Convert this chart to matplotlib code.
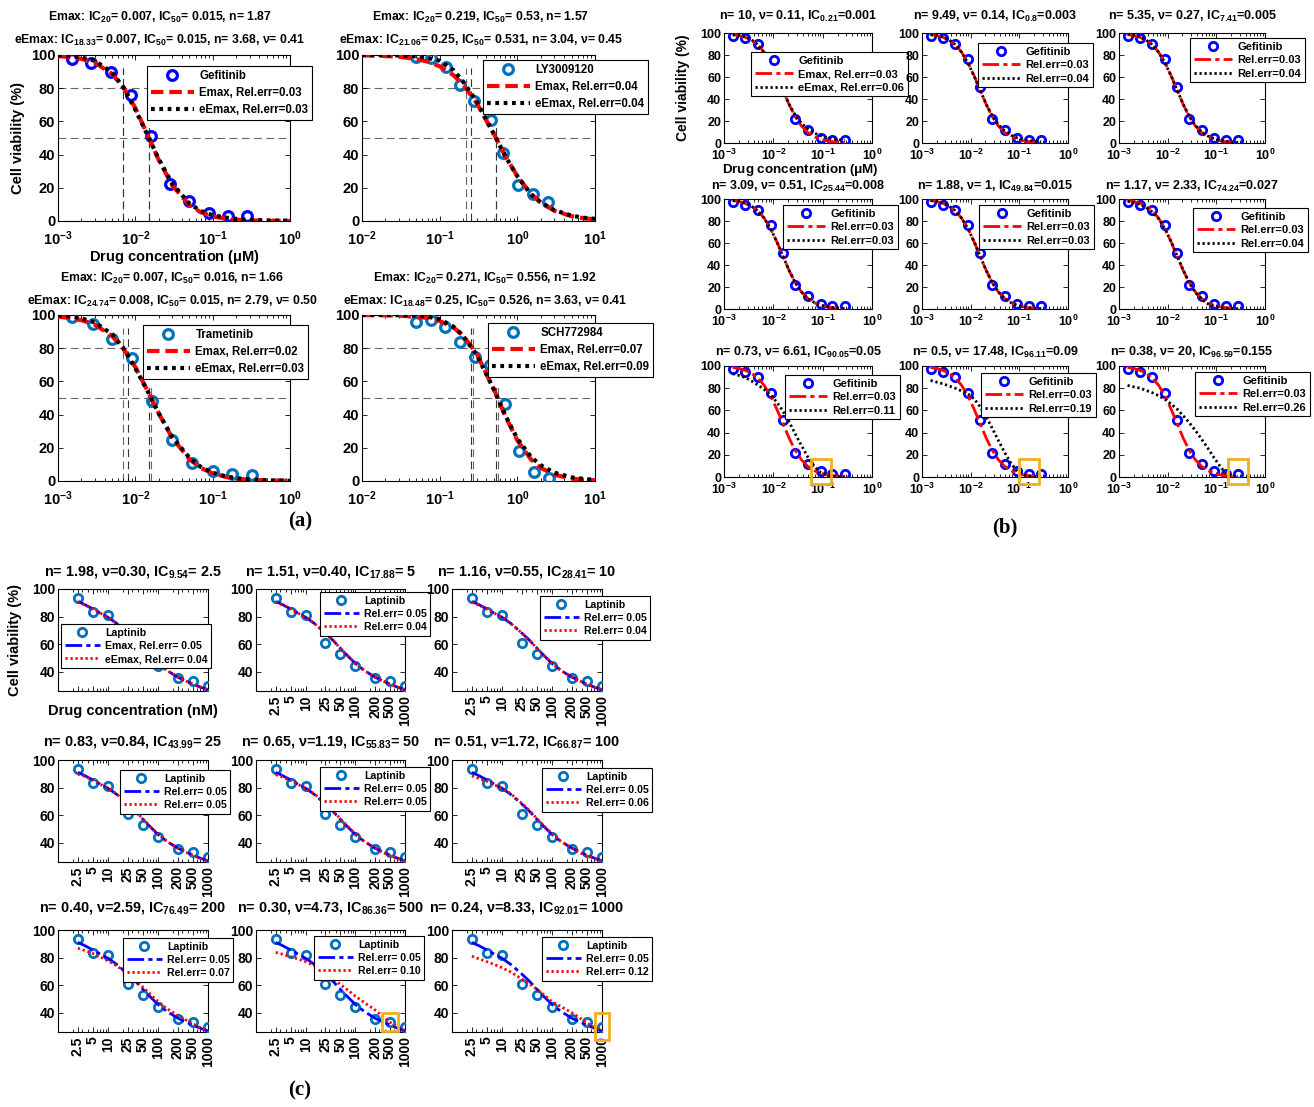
import matplotlib
matplotlib.use('Agg')
import matplotlib.pyplot as plt
from matplotlib.patches import Rectangle
from matplotlib.ticker import NullFormatter, LogLocator

plt.rcParams['font.family'] = ['Liberation Sans', 'DejaVu Sans']
plt.rcParams['font.weight'] = 'bold'
plt.rcParams['mathtext.fontset'] = 'custom'
plt.rcParams['mathtext.rm'] = 'Liberation Sans:bold'
plt.rcParams['mathtext.bf'] = 'Liberation Sans:bold'
plt.rcParams['mathtext.it'] = 'Liberation Sans:bold:italic'
plt.rcParams['mathtext.default'] = 'bf'
plt.rcParams['axes.linewidth'] = 0.8

W, H = 1314, 1107

# ---------------- data: panel (a) ----------------
gef_conc = [0.0015, 0.0027, 0.0048, 0.0088, 0.0158, 0.0277, 0.05, 0.091, 0.158, 0.28]
gef_via = [97.5, 95, 90, 76, 51, 22, 12, 5, 3, 3]
ly_conc = [0.05, 0.078, 0.12, 0.183, 0.275, 0.452, 0.658, 1.03, 1.6, 2.5]
ly_via = [99, 98, 92.5, 82, 72, 61, 41, 21.5, 16, 11.5]
tram_conc = [0.0015, 0.0028, 0.005, 0.0091, 0.0164, 0.03, 0.054, 0.1, 0.18, 0.325]
tram_via = [99, 94.5, 85.5, 74, 48, 25, 11, 6, 4, 3.5]
sch_conc = [0.05, 0.078, 0.118, 0.184, 0.282, 0.44, 0.69, 1.06, 1.65, 2.56]
sch_via = [95.5, 97, 93, 83.5, 75, 70, 46.5, 18, 5.5, 2]

grid_lo = [0.001, 0.0015, 0.002, 0.003, 0.005, 0.007, 0.01, 0.015, 0.02, 0.03,
           0.05, 0.07, 0.1, 0.15, 0.2, 0.3, 0.5, 1.0]
grid_hi = [0.01, 0.02, 0.03, 0.05, 0.07, 0.1, 0.15, 0.2, 0.3, 0.5,
           0.7, 1, 1.5, 2, 3, 5, 7, 10]
gef_emax = [99.4, 98.6, 97.7, 95.3, 88.6, 80.6, 68.1, 50, 36.9, 21.5, 9.5, 5.3, 2.8, 1.3, 0.8, 0.4, 0.14, 0.04]
gef_eemax = [99.8, 99.2, 98.5, 96.5, 89.5, 80.5, 67, 50, 37.5, 22.5, 10.5, 6, 3.5, 2, 1.3, 0.7, 0.3, 0.1]
ly_emax = [99.8, 99.4, 98.9, 97.6, 96.0, 93.2, 87.9, 82.2, 71.0, 52.3, 39.2, 27.0, 16.3, 11.1, 6.2, 2.9, 1.7, 1.0]
ly_eemax = [100, 99.9, 99.7, 99.2, 98.3, 96.5, 91, 84, 72, 52.3, 39, 27, 16, 11.3, 6.5, 3.2, 2.0, 1.3]
tram_emax = [99.0, 98.1, 96.9, 94.2, 87.3, 79.8, 68.6, 52.7, 40.8, 26.0, 13.1, 7.9, 4.6, 2.4, 1.5, 0.76, 0.33, 0.1]
tram_eemax = [99.8, 99, 98, 95.5, 88.5, 80, 68, 52.5, 41, 26.5, 14, 8.5, 5, 2.7, 1.7, 0.9, 0.4, 0.1]
sch_emax = [99.96, 99.8, 99.6, 99.0, 98.2, 96.4, 92.5, 87.7, 76.6, 55.1, 39.1, 24.5, 13.0, 7.9, 3.8, 1.45, 0.77, 0.39]
sch_eemax = [100, 100, 99.9, 99.6, 99, 97.5, 93, 87.5, 76, 55, 39.5, 25.5, 14.5, 9.5, 5, 2.2, 1.3, 0.7]

# IC lines (Emax IC20, Emax IC50, eEmax ICx, eEmax IC50)
gef_ic = [0.007, 0.015, 0.007, 0.015]
ly_ic = [0.219, 0.53, 0.25, 0.531]
tram_ic = [0.007, 0.016, 0.008, 0.015]
sch_ic = [0.271, 0.556, 0.25, 0.526]

a_titles = [
    ['Emax: IC$_{20}$= 0.007, IC$_{50}$= 0.015, n= 1.87',
     'eEmax: IC$_{18.33}$= 0.007, IC$_{50}$= 0.015, n= 3.68, ν= 0.41'],
    ['Emax: IC$_{20}$= 0.219, IC$_{50}$= 0.53, n= 1.57',
     'eEmax: IC$_{21.06}$= 0.25, IC$_{50}$= 0.531, n= 3.04, ν= 0.45'],
    ['Emax: IC$_{20}$= 0.007, IC$_{50}$= 0.016, n= 1.66',
     'eEmax: IC$_{24.74}$= 0.008, IC$_{50}$= 0.015, n= 2.79, ν= 0.50'],
    ['Emax: IC$_{20}$= 0.271, IC$_{50}$= 0.556, n= 1.92',
     'eEmax: IC$_{18.48}$= 0.25, IC$_{50}$= 0.526, n= 3.63, ν= 0.41'],
]
a_names = ['Gefitinib', 'LY3009120', 'Trametinib', 'SCH772984']
a_errs = [('0.03', '0.03'), ('0.04', '0.04'), ('0.02', '0.03'), ('0.07', '0.09')]

# ---------------- data: panel (b) ----------------
b_grid = [0.0015, 0.002, 0.0027, 0.0036, 0.0048, 0.0065, 0.0088, 0.012, 0.0158, 0.021,
          0.0277, 0.037, 0.05, 0.068, 0.091, 0.12, 0.158, 0.21, 0.28]
b_emax = [98.6, 97.7, 96.1, 93.5, 89.4, 82.7, 73.0, 60.3, 47.6, 34.8, 24.1, 15.6, 9.5, 5.6, 3.3, 2.0, 1.2, 0.7, 0.4]
b_eemax = [
    [98.3, 97.8, 96.6, 94, 89.5, 82, 72, 59.5, 47, 35, 25.5, 18, 13, 9, 6.5, 5, 3.8, 3, 2.4],
    [98.4, 97.8, 96.4, 93.8, 89.5, 82.5, 72.5, 60, 47.5, 35, 24.8, 16.8, 11, 7, 4.6, 3.2, 2.3, 1.6, 1.1],
    [98.8, 98, 96.5, 93.7, 89.4, 82.5, 72.8, 60.2, 47.6, 35, 24.5, 16, 10, 6.2, 3.8, 2.4, 1.5, 0.9, 0.6],
    [98.7, 97.8, 96.2, 93.5, 89.4, 82.7, 73.0, 60.3, 47.6, 34.8, 24.1, 15.6, 9.6, 5.8, 3.5, 2.2, 1.4, 0.9, 0.5],
    [98.6, 97.7, 96.1, 93.5, 89.4, 82.7, 73.0, 60.3, 47.6, 34.8, 24.1, 15.6, 9.5, 5.6, 3.3, 2.0, 1.2, 0.7, 0.4],
    [97.8, 96.8, 95, 92.3, 88.3, 82, 73, 60.5, 48, 35, 24, 15, 8.6, 4.6, 2.5, 1.3, 0.7, 0.4, 0.2],
    [93, 91.5, 89.5, 86.5, 83, 79, 74, 67, 59, 49.5, 39, 28.5, 18, 9.5, 4, 1.8, 0.8, 0.4, 0.2],
    [87, 85.5, 84, 82, 80, 77.5, 75, 70, 63, 54, 44, 33, 22, 12, 5, 2, 0.8, 0.3, 0.1],
    [82.5, 81.3, 80, 78, 76, 73.3, 70, 65.5, 61, 55, 49, 42, 34, 25.5, 17, 9.5, 3, 1, 0.3],
]
b_titles = [
    'n= 10, ν= 0.11, IC$_{0.21}$=0.001',
    'n= 9.49, ν= 0.14, IC$_{0.8}$=0.003',
    'n= 5.35, ν= 0.27, IC$_{7.41}$=0.005',
    'n= 3.09, ν= 0.51, IC$_{25.44}$=0.008',
    'n= 1.88, ν= 1, IC$_{49.84}$=0.015',
    'n= 1.17, ν= 2.33, IC$_{74.24}$=0.027',
    'n= 0.73, ν= 6.61, IC$_{90.05}$=0.05',
    'n= 0.5, ν= 17.48, IC$_{96.11}$=0.09',
    'n= 0.38, ν= 20, IC$_{96.59}$=0.155',
]
b_errs = ['0.06', '0.04', '0.04', '0.03', '0.03', '0.04', '0.11', '0.19', '0.26']
b_boxed = [None, None, None, None, None, None, 7, 8, 9]

# ---------------- data: panel (c) ----------------
lap_conc = [2.5, 5, 10, 25, 50, 100, 250, 500, 1000]
lap_ticks = ['2.5', '5', '10', '25', '50', '100', '200', '500', '1000']
lap_via = [93.5, 83, 81.5, 60.5, 52.5, 44, 35.5, 33, 29.5]
c_grid = [2.5, 3.5, 5, 7, 10, 15, 25, 35, 50, 70, 100, 150, 250, 350, 500, 700, 1000]
c_emax = [91, 88.5, 85.5, 82.5, 79.5, 75, 68, 63, 57, 51.5, 46, 41, 36, 33.5, 31, 28.8, 26.8]
c_eemax = [
    [90.5, 88.3, 85.5, 82.5, 79.5, 75, 68, 63, 57, 51.5, 46, 41, 36, 33.5, 31, 29, 27],
    [90.5, 88.3, 85.5, 82.5, 79.5, 75, 68, 63, 57, 51.5, 46, 41, 36, 33.5, 31, 29, 27],
    [90.3, 88.2, 85.5, 82.5, 79.5, 75, 68, 63, 57, 51.5, 46, 41, 36, 33.5, 31, 29, 27],
    [89.8, 88, 85.3, 82.5, 79.5, 75.2, 68.2, 63.2, 57.2, 51.7, 46.2, 41, 36, 33.3, 30.8, 28.8, 26.8],
    [89.3, 87.5, 85, 82.3, 79.5, 75.3, 68.3, 63.3, 57.3, 51.8, 46.3, 41, 36, 33.2, 30.7, 28.6, 26.6],
    [88.5, 86.5, 84.5, 82, 79.5, 75.5, 68.5, 63.5, 57.5, 52, 46.5, 41, 36, 33, 30.5, 28.5, 26.5],
    [86.8, 85, 83, 80.5, 77.6, 74, 68, 63.5, 58.5, 53.5, 48, 43, 38, 35, 32, 29, 26.3],
    [83.8, 82.3, 80.6, 79, 77, 74, 69, 65, 60.5, 56.5, 52, 47.5, 42, 37.5, 33, 30, 27],
    [81, 79, 77, 75, 72.6, 69.5, 64.4, 61, 57, 52.8, 48, 44.5, 40, 36.5, 32.5, 29.5, 27],
]
c_titles = [
    'n= 1.98, ν=0.30, IC$_{9.54}$= 2.5',
    'n= 1.51, ν=0.40, IC$_{17.88}$= 5',
    'n= 1.16, ν=0.55, IC$_{28.41}$= 10',
    'n= 0.83, ν=0.84, IC$_{43.99}$= 25',
    'n= 0.65, ν=1.19, IC$_{55.83}$= 50',
    'n= 0.51, ν=1.72, IC$_{66.87}$= 100',
    'n= 0.40, ν=2.59, IC$_{76.49}$= 200',
    'n= 0.30, ν=4.73, IC$_{86.36}$= 500',
    'n= 0.24, ν=8.33, IC$_{92.01}$= 1000',
]
c_errs = [('0.05', '0.04'), ('0.05', '0.04'), ('0.05', '0.04'),
          ('0.05', '0.05'), ('0.05', '0.05'), ('0.05', '0.06'),
          ('0.05', '0.07'), ('0.05', '0.10'), ('0.05', '0.12')]
c_boxed = [None, None, None, None, None, None, None, 7, 8]

MBLUE = '#0072BD'
BOXC = '#EDB120'

fig = plt.figure(figsize=(W / 100, H / 100), dpi=100)


def px_axes(l, t, r, b):
    return fig.add_axes([l / W, 1 - b / H, (r - l) / W, (b - t) / H])


def ptext(x, y, s, **kw):
    fig.text(x / W, 1 - y / H, s, **kw)


def style(ax, fs, xpad=4):
    ax.tick_params(which='both', direction='in', top=True, right=True, labelsize=fs, width=0.6)
    ax.tick_params(axis='x', pad=xpad)
    ax.tick_params(axis='y', pad=2)
    ax.tick_params(which='major', length=3.5)
    ax.tick_params(which='minor', length=2)
    ax.xaxis.set_minor_locator(LogLocator(subs=range(2, 10)))
    ax.xaxis.set_minor_formatter(NullFormatter())


def px_legend(ax, x, y, fs, hl, ls=0.3):
    leg = ax.legend(loc='upper left', bbox_to_anchor=(x / W, 1 - y / H), bbox_transform=fig.transFigure,
                    fontsize=fs, handlelength=hl, frameon=True, fancybox=False, framealpha=1,
                    edgecolor='black', borderaxespad=0, borderpad=0.35, labelspacing=ls,
                    handletextpad=0.5, numpoints=1)
    leg.get_frame().set_linewidth(0.8)
    leg.set_zorder(10)


def box(ax, xc, y0, y1, half_dec):
    x0 = xc / 10 ** half_dec
    x1 = xc * 10 ** half_dec
    ax.add_patch(Rectangle((x0, y0), x1 - x0, y1 - y0, fill=False, ec=BOXC, lw=2,
                           clip_on=False, zorder=6))


def dec_labels(lo, hi):
    return [10.0 ** k for k in range(lo, hi + 1)], ['$10^{%d}$' % k for k in range(lo, hi + 1)]


# ---------------- panel (a) ----------------
a_pos = [(58, 55, 290, 221), (362, 55, 595, 221), (58, 315, 290, 481), (362, 315, 595, 481)]
a_conc = [gef_conc, ly_conc, tram_conc, sch_conc]
a_via = [gef_via, ly_via, tram_via, sch_via]
a_grid = [grid_lo, grid_hi, grid_lo, grid_hi]
a_emax = [gef_emax, ly_emax, tram_emax, sch_emax]
a_eemax = [gef_eemax, ly_eemax, tram_eemax, sch_eemax]
a_ic = [gef_ic, ly_ic, tram_ic, sch_ic]
a_dec = [(-3, 0), (-2, 1), (-3, 0), (-2, 1)]
a_mcol = ['blue', MBLUE, MBLUE, MBLUE]
a_tx = [160, 481, 172, 485]
a_ty = [21, 21, 282, 282]
a_leg = [(147, 66), (483, 60), (143, 325), (488, 323)]

for i in range(4):
    ax = px_axes(*a_pos[i])
    ax.set_xscale('log')
    lo, hi = a_dec[i]
    ax.set_xlim(10.0 ** lo, 10.0 ** hi)
    ax.set_ylim(0, 100)
    for yv in (80, 50):
        ax.axhline(yv, color='0.4', lw=0.8, dashes=(7, 4), zorder=1)
    tops = [92, 58, 92, 58]
    for j, icv in enumerate(a_ic[i]):
        ax.plot([icv, icv], [0, tops[j]], color='0.4' if j < 2 else '0.2', lw=0.8, dashes=(7, 4), zorder=1)
    ax.plot(a_conc[i], a_via[i], 'o', mfc='none', mec=a_mcol[i], ms=7, mew=2.3, label=a_names[i], zorder=3)
    ax.plot(a_grid[i], a_emax[i], color='red', lw=3, dashes=(3, 1.4),
            label='Emax, Rel.err=' + a_errs[i][0], zorder=4)
    ax.plot(a_grid[i], a_eemax[i], color='black', lw=3, dashes=(0.9, 1.1),
            label='eEmax, Rel.err=' + a_errs[i][1], zorder=5)
    ticks, labs = dec_labels(lo, hi)
    ax.set_xticks(ticks)
    ax.set_xticklabels(labs)
    ax.set_yticks([0, 20, 40, 60, 80, 100])
    style(ax, 10.5, xpad=6)
    px_legend(ax, a_leg[i][0], a_leg[i][1], 8.3, 3.7, ls=0.45)
    ptext(a_tx[i], a_ty[i], a_titles[i][0], ha='center', va='baseline', fontsize=8.8)
    ptext(a_tx[i], a_ty[i] + 23, a_titles[i][1], ha='center', va='baseline', fontsize=8.8)

ptext(18, 138, 'Cell viability (%)', rotation=90, ha='center', va='center', fontsize=10.5)
ptext(175, 257, 'Drug concentration ($\\mu$M)', ha='center', va='center', fontsize=10.5)
ptext(300, 521, '(a)', ha='center', va='center', fontsize=15, family='Liberation Serif')

# ---------------- panel (b) ----------------
b_cols = [(724, 872), (922, 1068), (1119, 1265)]
b_rows = [(33, 143), (199, 309), (366, 477)]
b_leg = [(751, 52), (978, 43), (1190, 38), (783, 205), (979, 205), (1193, 208),
         (785, 375), (981, 373), (1195, 372)]
b_ty = [20, 190, 356]

for k in range(9):
    r, c = divmod(k, 3)
    ax = px_axes(b_cols[c][0], b_rows[r][0], b_cols[c][1], b_rows[r][1])
    ax.set_xscale('log')
    ax.set_xlim(1e-3, 1)
    ax.set_ylim(0, 100)
    ax.plot(gef_conc, gef_via, 'o', mfc='none', mec='blue', ms=6, mew=2, label='Gefitinib', zorder=3)
    lab1 = 'Rel.err=0.03'
    lab2 = 'Rel.err=' + b_errs[k]
    if k == 0:
        lab1 = 'Emax, ' + lab1
        lab2 = 'eEmax, ' + lab2
    ax.plot(b_grid, b_emax, color='red', lw=2, dashes=(6, 1.5, 1.5, 1.5), label=lab1, zorder=4)
    ax.plot(b_grid, b_eemax[k], color='black', lw=2, dashes=(0.8, 1.0), label=lab2, zorder=5)
    if b_boxed[k] is not None:
        box(ax, gef_conc[b_boxed[k]], -6, 16, 0.2)
    ticks, labs = dec_labels(-3, 0)
    ax.set_xticks(ticks)
    ax.set_xticklabels(labs)
    ax.set_yticks([0, 20, 40, 60, 80, 100])
    style(ax, 9, xpad=3.5)
    px_legend(ax, b_leg[k][0], b_leg[k][1], 8, 3.4)
    ptext((b_cols[c][0] + b_cols[c][1]) / 2, b_ty[r], b_titles[k], ha='center', va='baseline', fontsize=9)

ptext(683, 88, 'Cell viability (%)', rotation=90, ha='center', va='center', fontsize=10)
ptext(800, 170, 'Drug concentration ($\\mu$M)', ha='center', va='center', fontsize=9.6)
ptext(1005, 527, '(b)', ha='center', va='center', fontsize=15, family='Liberation Serif')

# ---------------- panel (c) ----------------
c_cols = [(58, 208), (256, 405), (452, 602)]
c_rows = [(589, 691), (760, 862), (930, 1032)]
c_leg = [(61, 624), (320, 592), (540, 596), (120, 770), (320, 767), (542, 768),
         (123, 938), (314, 936), (542, 937)]
c_ty = [575, 745, 911]

for k in range(9):
    r, c = divmod(k, 3)
    ax = px_axes(c_cols[c][0], c_rows[r][0], c_cols[c][1], c_rows[r][1])
    ax.set_xscale('log')
    ax.set_xlim(1, 1000)
    ax.set_ylim(26, 100)
    ax.plot(lap_conc, lap_via, 'o', mfc='none', mec=MBLUE, ms=6, mew=2, label='Laptinib', zorder=3)
    lab1 = 'Rel.err= ' + c_errs[k][0]
    lab2 = 'Rel.err= ' + c_errs[k][1]
    if k == 0:
        lab1 = 'Emax, ' + lab1
        lab2 = 'eEmax, ' + lab2
    ax.plot(c_grid, c_emax, color='blue', lw=2, dashes=(6, 1.5, 1.5, 1.5), label=lab1, zorder=4)
    ax.plot(c_grid, c_eemax[k], color='red', lw=2, dashes=(0.8, 1.0), label=lab2, zorder=5)
    if k == 7:
        box(ax, lap_conc[c_boxed[k]], 26.5, 39.5, 0.16)
    if k == 8:
        box(ax, lap_conc[c_boxed[k]], 20, 40, 0.14)
    ax.set_xticks(lap_conc)
    if k == 0:
        ax.set_xticklabels([])
    else:
        ax.set_xticklabels(lap_ticks, rotation=90)
    ax.set_yticks([40, 60, 80, 100])
    style(ax, 10, xpad=3)
    px_legend(ax, c_leg[k][0], c_leg[k][1], 7.6, 3.3)
    ptext((c_cols[c][0] + c_cols[c][1]) / 2, c_ty[r], c_titles[k], ha='center', va='baseline', fontsize=10.4)

ptext(15, 640, 'Cell viability (%)', rotation=90, ha='center', va='center', fontsize=10.5)
ptext(133, 711, 'Drug concentration (nM)', ha='center', va='center', fontsize=10.5)
ptext(300, 1090, '(c)', ha='center', va='center', fontsize=15, family='Liberation Serif')

fig.savefig('out.png', dpi=100)
